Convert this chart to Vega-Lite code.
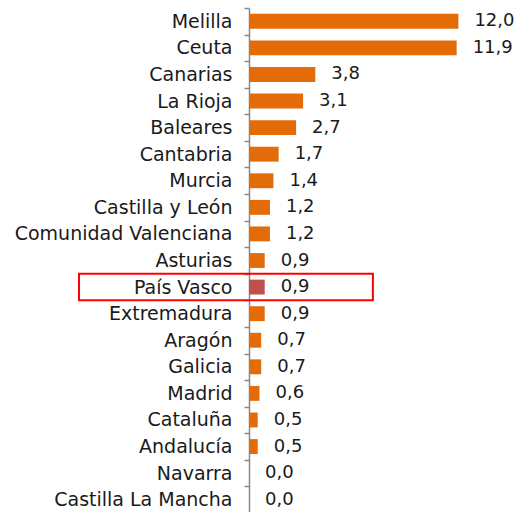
{
  "$schema": "https://vega.github.io/schema/vega-lite/v6.json",
  "width": 267,
  "height": 505,
  "autosize": "none",
  "padding": {"left": 249, "top": 8, "right": 0, "bottom": 0},
  "config": {
    "view": {"stroke": null},
    "font": "DejaVu Sans",
    "locale": {"number": {"decimal": ",", "thousands": ".", "grouping": [3], "currency": ["", " €"]}}
  },
  "data": {"values": [
    {"region": "Melilla", "v": 12.0, "hl": "n"},
    {"region": "Ceuta", "v": 11.9, "hl": "n"},
    {"region": "Canarias", "v": 3.8, "hl": "n"},
    {"region": "La Rioja", "v": 3.1, "hl": "n"},
    {"region": "Baleares", "v": 2.7, "hl": "n"},
    {"region": "Cantabria", "v": 1.7, "hl": "n"},
    {"region": "Murcia", "v": 1.4, "hl": "n"},
    {"region": "Castilla y León", "v": 1.2, "hl": "n"},
    {"region": "Comunidad Valenciana", "v": 1.2, "hl": "n"},
    {"region": "Asturias", "v": 0.9, "hl": "n"},
    {"region": "País Vasco", "v": 0.9, "hl": "y", "bx1": -9.74, "bx2": 7.1},
    {"region": "Extremadura", "v": 0.9, "hl": "n"},
    {"region": "Aragón", "v": 0.7, "hl": "n"},
    {"region": "Galicia", "v": 0.7, "hl": "n"},
    {"region": "Madrid", "v": 0.6, "hl": "n"},
    {"region": "Cataluña", "v": 0.5, "hl": "n"},
    {"region": "Andalucía", "v": 0.5, "hl": "n"},
    {"region": "Navarra", "v": 0.0, "hl": "n"},
    {"region": "Castilla La Mancha", "v": 0.0, "hl": "n"}
  ]},
  "encoding": {
    "y": {
      "field": "region", "type": "nominal", "sort": null,
      "scale": {"paddingInner": 0, "paddingOuter": 0},
      "axis": {
        "title": null, "domainColor": "#898989", "domainWidth": 1.5,
        "tickColor": "#898989", "tickWidth": 1.5, "tickSize": 5, "tickBand": "extent",
        "labelFont": "DejaVu Sans", "labelFontSize": 19, "labelColor": "#1a1a1a",
        "labelPadding": 12, "labelLimit": 300
      }
    }
  },
  "layer": [
    {
      "mark": {"type": "bar", "height": {"band": 0.56}},
      "encoding": {
        "x": {"field": "v", "type": "quantitative", "scale": {"domain": [0, 15.3]}, "axis": null},
        "color": {"field": "hl", "type": "nominal", "scale": {"domain": ["n", "y"], "range": ["#E36C09", "#C0504D"]}, "legend": null}
      }
    },
    {
      "mark": {"type": "text", "align": "left", "baseline": "middle", "dx": 16, "fontSize": 18, "font": "DejaVu Sans", "color": "#1a1a1a"},
      "encoding": {
        "x": {"field": "v", "type": "quantitative", "scale": {"domain": [0, 15.3]}, "axis": null},
        "text": {"field": "v", "type": "quantitative", "format": ".1f"}
      }
    },
    {
      "transform": [{"filter": "datum.bx1 != null"}],
      "mark": {"type": "rect", "fill": null, "stroke": "#FF0000", "strokeWidth": 2},
      "encoding": {
        "x": {"field": "bx1", "type": "quantitative", "scale": {"domain": [0, 15.3]}, "axis": null},
        "x2": {"field": "bx2"}
      }
    }
  ]
}
